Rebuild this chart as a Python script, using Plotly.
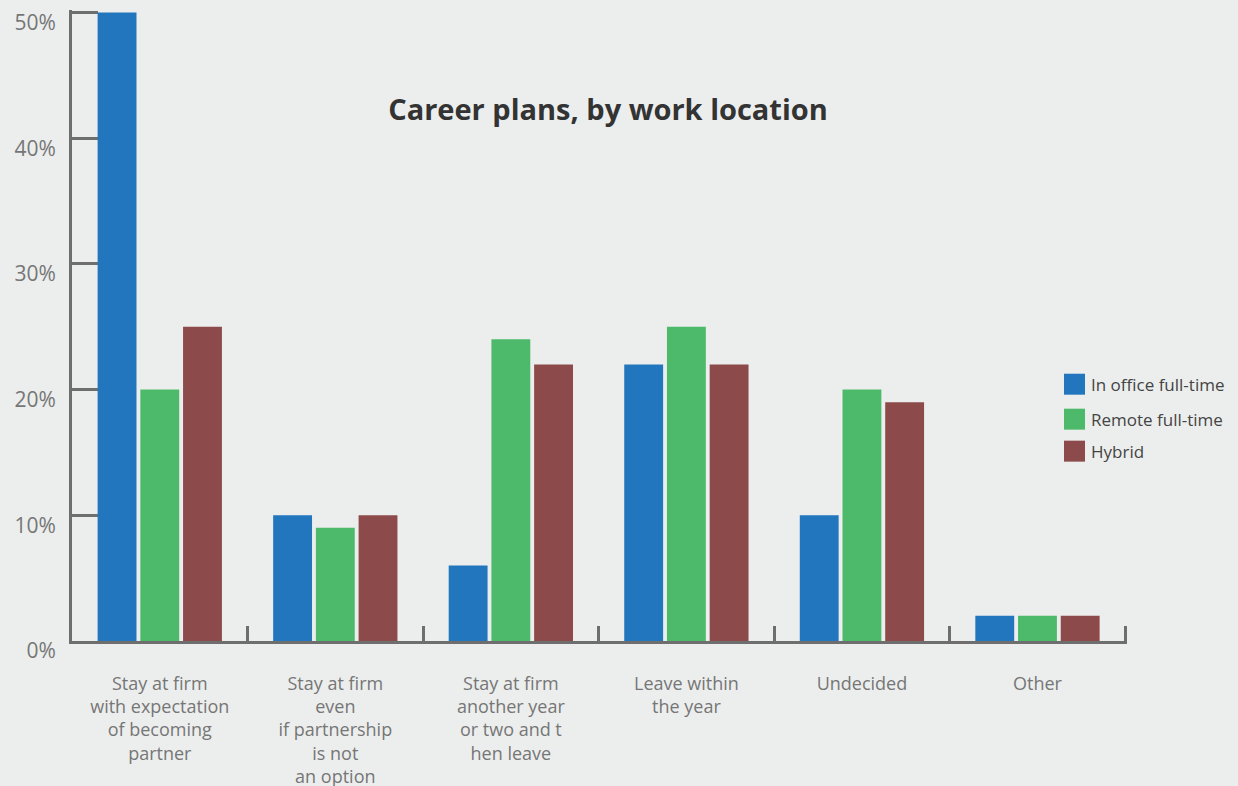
import plotly.graph_objects as go

# Career plans survey, share of respondents by work location
categories = [
    "Stay at firm<br>with expectation<br>of becoming<br>partner",
    "Stay at firm<br>even<br>if partnership<br>is not<br>an option",
    "Stay at firm<br>another year<br>or two and t<br>hen leave",
    "Leave within<br>the year",
    "Undecided",
    "Other",
]
series_names = ["In office full-time", "Remote full-time", "Hybrid"]
in_office = [50, 10, 6, 22, 10, 2]
remote = [20, 9, 24, 25, 20, 2]
hybrid = [25, 10, 22, 22, 19, 2]
series_values = [in_office, remote, hybrid]
colors = ["#2276BE", "#4CBA6A", "#8C4A4B"]

y_ticks = [0, 10, 20, 30, 40, 50]
y_tick_labels = ["0%", "10%", "20%", "30%", "40%", "50%"]

FONT = "Open Sans"
BG = "#ECEEED"
AXIS = "#6E6E6E"

# plot area in pixels
W, H = 1238, 786
PL, PR, PB = 72, 1127, 641
PT = 9.5  # a little headroom so the 50% tick is not clipped at the edge
PW, PH = PR - PL, PB - PT

fig = go.Figure()
for name, vals, col in zip(series_names, series_values, colors):
    fig.add_trace(go.Bar(
        x=categories, y=vals, name=name,
        marker=dict(color=col, line=dict(width=0)),
        showlegend=False,
    ))

# Legend drawn as square swatches with labels on the right side
leg_left = 1064
leg_y = [384, 419, 451]
for name, col, yy in zip(series_names, colors, leg_y):
    fig.add_shape(
        type="rect", xref="paper", yref="paper",
        x0=(leg_left - PL) / PW, x1=(leg_left + 21 - PL) / PW,
        y0=(PB - yy - 10.5) / PH, y1=(PB - yy + 10.5) / PH,
        fillcolor=col, line=dict(width=0),
    )
    fig.add_annotation(
        xref="paper", yref="paper",
        x=(leg_left + 25 - PL) / PW, y=(PB - yy) / PH,
        text=name, showarrow=False, xanchor="left", yanchor="middle",
        font=dict(family=FONT, size=17, color="#444444"),
    )

fig.update_layout(
    width=W, height=H,
    margin=dict(l=PL, r=W - PR, t=PT, b=H - PB, pad=0),
    paper_bgcolor=BG, plot_bgcolor=BG,
    barmode="group", bargap=0.27, bargroupgap=0.09,
    title=dict(
        text="<b>Career plans, by work location</b>",
        x=608 / W, xref="container", xanchor="center",
        y=1 - 110 / H, yref="container", yanchor="middle",
        font=dict(family=FONT, size=29, color="#333333"),
    ),
    font=dict(family=FONT, color="#767676"),
    showlegend=False,
)

fig.update_xaxes(
    type="category", tickson="boundaries",
    range=[-0.5, 5.51],
    ticks="inside", ticklen=15, tickwidth=3, tickcolor=AXIS,
    showline=True, linecolor=AXIS, linewidth=3,
    showgrid=False, zeroline=False,
    tickfont=dict(family=FONT, size=18, color="#767676"),
    ticklabelstandoff=24,
    automargin=False,
    layer="below traces",
)
fig.update_yaxes(
    range=[0, 50.2], tickvals=y_ticks, ticktext=y_tick_labels,
    ticks="inside", ticklen=26, tickwidth=3, tickcolor=AXIS,
    showline=True, linecolor=AXIS, linewidth=3,
    showgrid=False, zeroline=False,
    tickfont=dict(family=FONT, size=21, color="#767676"),
    ticklabelshift=10, ticklabelstandoff=9,
    automargin=False,
    layer="below traces",
)

fig.write_html("out.html")
